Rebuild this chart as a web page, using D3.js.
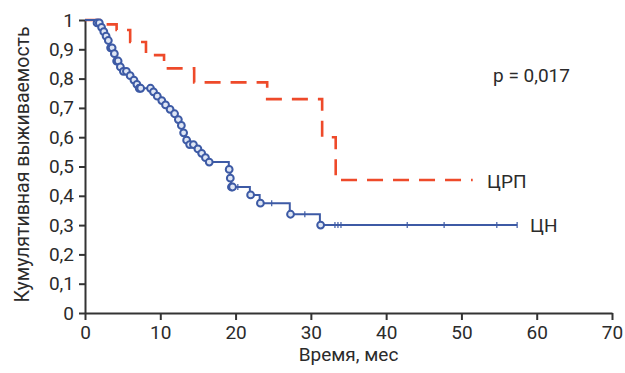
<!DOCTYPE html>
<html>
<head>
<meta charset="utf-8">
<script src="https://cdn.jsdelivr.net/npm/d3@7"></script>
<style>
  body { margin: 0; background: #fff; }
  text { font-family: Roboto, "DejaVu Sans", sans-serif; fill: #2b2b2b; }
</style>
</head>
<body>
<svg id="chart" width="625" height="373"></svg>
<script>
// ЦН group: step times (months) and survival after each step
const cnTimes = [0, 1.6, 2.0, 2.4, 2.8, 3.05, 3.3, 3.7, 4.1, 4.5, 4.9, 5.6, 6.2, 6.8, 7.0,
  8.9, 9.3, 10.0, 10.5, 11.0, 11.7, 12.2, 12.6, 13.0, 13.3, 13.9, 14.6, 15.1, 15.8, 16.3,
  19.1, 19.3, 19.4, 21.9, 23.2, 27.2, 31.2];
const cnSurv = [1, 0.99, 0.975, 0.96, 0.945, 0.93, 0.905, 0.885, 0.86, 0.84, 0.825, 0.81, 0.795, 0.78, 0.767,
  0.755, 0.74, 0.725, 0.71, 0.695, 0.68, 0.66, 0.64, 0.615, 0.59, 0.575, 0.56, 0.545, 0.53, 0.515,
  0.49, 0.46, 0.43, 0.403, 0.375, 0.337, 0.30];
const cnEnd = 57.4;
// censored cases drawn as circles and as small ticks
const cnCircles = [1.6, 1.9, 2.2, 2.5, 2.8, 3.1, 3.4, 3.6, 3.9, 4.2, 4.4, 4.7, 5.1, 5.5, 6.0, 6.5, 6.9,
  7.2, 7.4, 8.7, 9.1, 9.6, 10.2, 10.7, 11.3, 11.9, 12.4, 12.8, 13.1, 13.5, 13.9, 14.4, 15.0, 15.5,
  16.0, 16.5, 19.15, 19.3, 19.45, 19.6, 22.0, 23.3, 27.3, 31.3];
const cnTicks = [20.3, 24.8, 29.2, 33.2, 33.6, 34.0, 42.8, 47.7, 54.7, 57.4];

// ЦРП group
const crpTimes = [0, 2.5, 4.2, 6.0, 8.1, 10.5, 14.5, 24.2, 31.5, 33.3];
const crpSurv = [1, 0.985, 0.966, 0.925, 0.88, 0.835, 0.787, 0.73, 0.60, 0.454];
const crpEnd = 51.5;

const xTicks = [0, 10, 20, 30, 40, 50, 60, 70];
const yTicks = [0, 0.1, 0.2, 0.3, 0.4, 0.5, 0.6, 0.7, 0.8, 0.9, 1];

const svg = d3.select("#chart");
const x = d3.scaleLinear().domain([0, 70]).range([85, 612]);
const y = d3.scaleLinear().domain([0, 1]).range([313, 20]);
const fmt = d => d === 0 || d === 1 ? String(d) : String(d).replace(".", ",");

// step value at time t
function survAt(times, surv, t) {
  let v = surv[0];
  for (let i = 0; i < times.length; i++) if (times[i] <= t) v = surv[i];
  return v;
}

const stepLine = d3.line()
  .x(d => x(d[0]))
  .y(d => y(d[1]))
  .curve(d3.curveStepAfter);

const crpPts = crpTimes.map((t, i) => [t, crpSurv[i]]);
crpPts.push([crpEnd, crpSurv[crpSurv.length - 1]]);
const cnPts = cnTimes.map((t, i) => [t, cnSurv[i]]);
cnPts.push([cnEnd, cnSurv[cnSurv.length - 1]]);

// axes
svg.append("g")
  .attr("transform", "translate(0," + y(0) + ")")
  .call(d3.axisBottom(x).tickValues(xTicks).tickSize(7).tickPadding(6).tickSizeOuter(0))
  .call(g => g.selectAll("line, path").attr("stroke", "#333").attr("stroke-width", 2))
  .call(g => g.selectAll("text").attr("font-size", 19).style("font-family", "Roboto"));

svg.append("g")
  .attr("transform", "translate(" + x(0) + ",0)")
  .call(d3.axisLeft(y).tickValues(yTicks).tickFormat(fmt).tickSize(6).tickPadding(5).tickSizeOuter(0))
  .call(g => g.selectAll("line, path").attr("stroke", "#333").attr("stroke-width", 2))
  .call(g => g.selectAll("text").attr("font-size", 19).style("font-family", "Roboto"));

// ЦРП curve (dashed)
svg.append("path")
  .datum(crpPts)
  .attr("d", stepLine)
  .attr("fill", "none")
  .attr("stroke", "#ee4a2a")
  .attr("stroke-width", 2.6)
  .attr("stroke-dasharray", "16,10");

// ЦН curve
svg.append("path")
  .datum(cnPts)
  .attr("d", stepLine)
  .attr("fill", "none")
  .attr("stroke", "#3d5aa5")
  .attr("stroke-width", 2);

svg.selectAll("circle.cens")
  .data(cnCircles)
  .enter()
  .append("circle")
  .attr("class", "cens")
  .attr("cx", d => x(d))
  .attr("cy", d => y(survAt(cnTimes, cnSurv, d)))
  .attr("r", 3.4)
  .attr("fill", "#dfe6f4")
  .attr("stroke", "#3d5aa5")
  .attr("stroke-width", 2);

svg.selectAll("line.tick-cens")
  .data(cnTicks)
  .enter()
  .append("line")
  .attr("class", "tick-cens")
  .attr("x1", d => x(d))
  .attr("x2", d => x(d))
  .attr("y1", d => y(survAt(cnTimes, cnSurv, d)) - 3)
  .attr("y2", d => y(survAt(cnTimes, cnSurv, d)) + 3)
  .attr("stroke", "#3d5aa5")
  .attr("stroke-width", 1.2);

// labels
svg.append("text").attr("x", 493).attr("y", 82).attr("font-size", 19).text("p = 0,017");
svg.append("text").attr("x", 487).attr("y", 188).attr("font-size", 19).text("ЦРП");
svg.append("text").attr("x", 530).attr("y", 232).attr("font-size", 19).text("ЦН");

svg.append("text")
  .attr("x", x(35))
  .attr("y", 361)
  .attr("text-anchor", "middle")
  .attr("font-size", 19)
  .text("Время, мес");

svg.append("text")
  .attr("transform", "translate(29," + (y(0.5) - 2) + ") rotate(-90)")
  .attr("text-anchor", "middle")
  .attr("font-size", 19.5)
  .text("Кумулятивная выживаемость");
</script>
</body>
</html>
